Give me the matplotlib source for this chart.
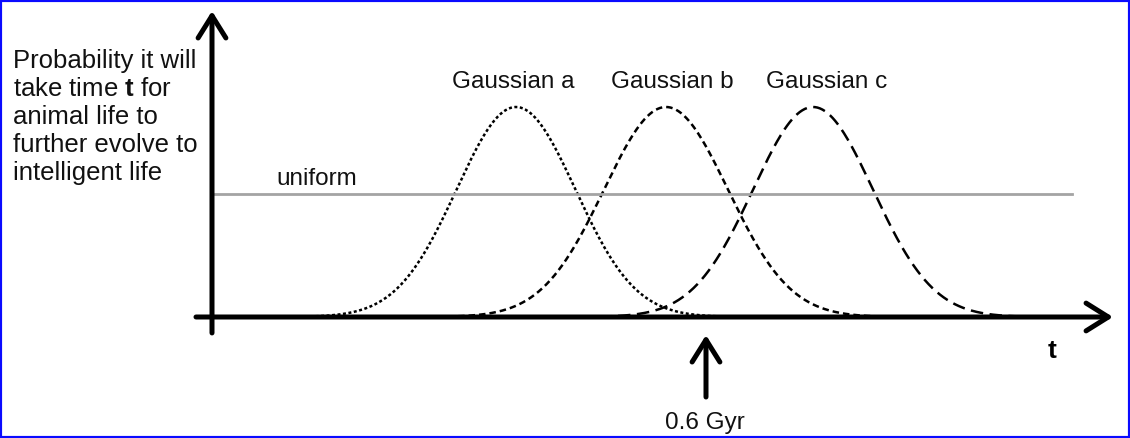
import numpy as np
import matplotlib
matplotlib.use("Agg")
import matplotlib.pyplot as plt
from matplotlib.patches import Rectangle

plt.rcParams['font.family'] = ['Liberation Sans', 'DejaVu Sans']
plt.rcParams['mathtext.fontset'] = 'custom'
plt.rcParams['mathtext.rm'] = 'Liberation Sans'
plt.rcParams['mathtext.bf'] = 'Liberation Sans:bold'

# chart values (t in arbitrary units, probability relative to gaussian peak)
gauss_names = ['Gaussian a', 'Gaussian b', 'Gaussian c']
gauss_centers = [3.04, 4.54, 6.01]
gauss_sigmas = [0.595, 0.62, 0.60]
gauss_styles = [(0, (1.2, 1.0)), (0, (2.6, 1.6)), (0, (5.0, 2.6))]
uniform_level = 0.586
uniform_range = [0.02, 8.60]
marker_t = 4.94
marker_label = '0.6 Gyr'
ylabel_lines = ['Probability it will', r'take time $\mathbf{t}$ for', 'animal life to',
                'further evolve to', 'intelligent life']

fig = plt.figure(figsize=(11.30, 4.38), dpi=100)
ax = fig.add_axes([0, 0, 1, 1])
ax.set_xlim(-2.12, 9.18)
ax.set_ylim(-0.5762, 1.5095)
ax.axis('off')

# gaussians
for c, s, ls in zip(gauss_centers, gauss_sigmas, gauss_styles):
    t = np.linspace(c - 4.2 * s, c + 4.2 * s, 400)
    ax.plot(t, np.exp(-(t - c) ** 2 / (2 * s ** 2)), color='black', lw=1.8, linestyle=ls)

# uniform
ax.plot(uniform_range, [uniform_level, uniform_level], color='#a4a4a4', lw=2.0)

# axes with arrows
arrow_kw = dict(arrowstyle='->,head_length=0.8,head_width=0.5', lw=3.6, color='black',
                shrinkA=0, shrinkB=0, mutation_scale=20)
ax.annotate('', xy=(0, 1.457), xytext=(0, -0.076), arrowprops=arrow_kw)
ax.annotate('', xy=(9.01, 0), xytext=(-0.16, 0), arrowprops=arrow_kw)
ax.annotate('', xy=(marker_t, -0.086), xytext=(marker_t, -0.381), arrowprops=arrow_kw)

# texts
fs = 17.5
for i, line in enumerate(ylabel_lines):
    ax.text(-1.99, 1.186 - i * 0.1335, line, fontsize=18.5, va='baseline', ha='left',
            color='#111111')
for name, x in zip(gauss_names, [3.01, 4.60, 6.15]):
    ax.text(x, 1.0905, name, fontsize=fs, ha='center', va='baseline', color='#111111')
ax.text(0.64, 0.629, 'uniform', fontsize=fs, ha='left', va='baseline', color='#111111')
ax.text(8.40, -0.195, 't', fontsize=19, ha='center', va='baseline', fontweight='bold')
ax.text(4.93, -0.533, marker_label, fontsize=fs, ha='center', va='baseline', color='#111111')

# blue frame
fig.patches.append(Rectangle((0, 0), 1, 1, transform=fig.transFigure, fill=False,
                             edgecolor='#0a0aff', lw=3.0))

fig.savefig('out.png', dpi=100)
